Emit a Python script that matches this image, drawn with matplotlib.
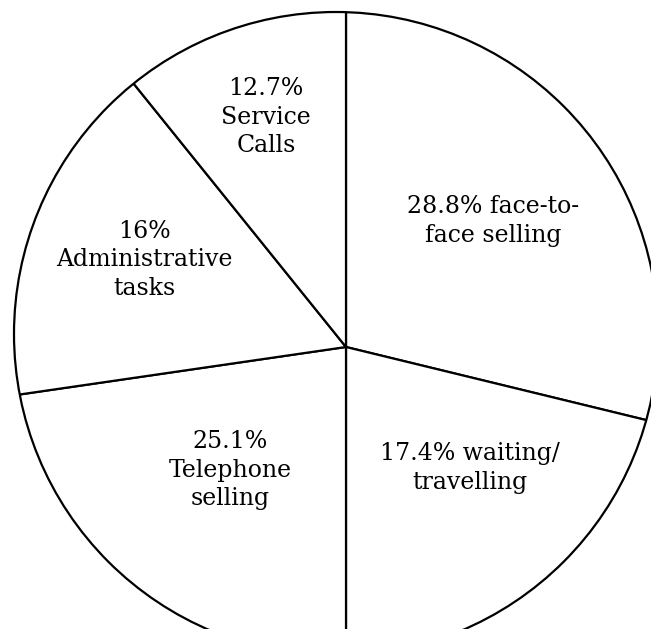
import matplotlib.pyplot as plt
from matplotlib.patches import Circle

# Time split of a sales rep (labels as printed on the chart)
categories = ['face-to-\nface selling', 'waiting/\ntravelling', 'Telephone\nselling',
              'Administrative\ntasks', 'Service\nCalls']
label_pct = ['28.8%', '17.4%', '25.1%', '16%', '12.7%']
# slice sizes as they are actually drawn in the picture (%)
drawn_share = [28.8, 21.2, 22.7, 16.5, 10.8]

W, H = 651, 629
fig = plt.figure(figsize=(W / 100, H / 100), dpi=100)
ax = fig.add_axes([0, 0, 1, 1])

# spokes meet here, the outline circle is a bit off from it
hub = (346, H - 347)

wedges, _ = ax.pie(drawn_share, startangle=90, counterclock=False, center=hub,
                   radius=420, frame=True,
                   wedgeprops=dict(facecolor='white', edgecolor='black', linewidth=1.6))
rim = Circle((336, H - 334), 322, fill=False, edgecolor='black', linewidth=1.6)
ax.add_patch(rim)
for w in wedges:
    w.set_clip_on(True)   # pie turns clipping off by default
    w.set_clip_path(rim)

ax.set_xlim(0, W)
ax.set_ylim(0, H)
ax.set_aspect('equal')
ax.axis('off')

# label placement (pixel centres)
label_pos = [(493, 221), (470, 468), (230, 470), (144, 260), (266, 117)]
for pct, name, (x, y) in zip(label_pct, categories, label_pos):
    if name.startswith('face') or name.startswith('waiting'):
        first, rest = name.split('\n')
        txt = f'{pct} {first}\n{rest}'
    else:
        txt = f'{pct}\n{name}'
    ax.text(x, H - y, txt, ha='center', va='center', multialignment='center',
            fontsize=17, family='DejaVu Serif', linespacing=1.3)

plt.savefig('out.png', dpi=100)
